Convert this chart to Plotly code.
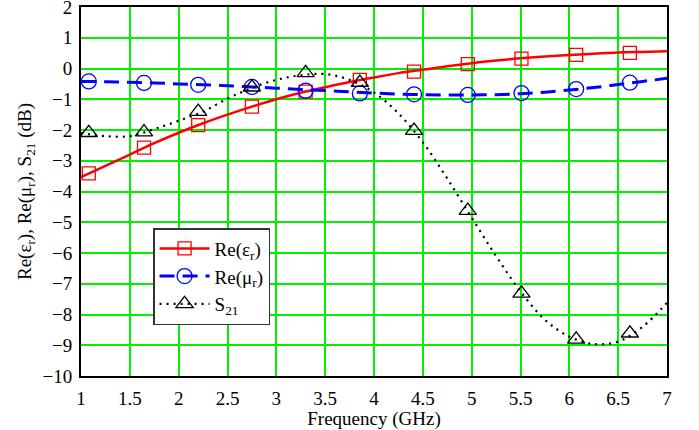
import plotly.graph_objects as go

# Dense curve samples (GHz)
line_freq = [1.0, 1.25, 1.5, 1.75, 2.0, 2.25, 2.5, 2.75, 3.0, 3.25, 3.5, 3.75, 4.0,
             4.25, 4.5, 4.75, 5.0, 5.25, 5.5, 5.75, 6.0, 6.25, 6.5, 6.75, 7.0]
eps_line = [-3.53, -3.17, -2.80, -2.43, -2.09, -1.78, -1.50, -1.24, -1.00, -0.79, -0.61, -0.44, -0.29,
            -0.15, -0.04, 0.07, 0.17, 0.26, 0.33, 0.39, 0.44, 0.48, 0.52, 0.54, 0.56]
mu_line = [-0.42, -0.43, -0.45, -0.47, -0.50, -0.53, -0.56, -0.60, -0.64, -0.68, -0.72, -0.76, -0.80,
           -0.83, -0.85, -0.86, -0.86, -0.85, -0.82, -0.77, -0.70, -0.62, -0.52, -0.42, -0.32]
s21_line = [-2.10, -2.20, -2.20, -1.97, -1.70, -1.40, -0.98, -0.63, -0.37, -0.22, -0.18, -0.37, -0.78,
            -1.46, -2.40, -3.58, -4.85, -6.10, -7.25, -8.17, -8.72, -8.96, -8.88, -8.40, -7.62]

# Marker samples
marker_freq = [1.08, 1.645, 2.2, 2.75, 3.3, 3.855, 4.41, 4.96, 5.51, 6.07, 6.62]
eps_mark = [-3.41, -2.57, -1.84, -1.24, -0.75, -0.37, -0.10, 0.14, 0.32, 0.44, 0.51]
mu_mark = [-0.42, -0.47, -0.53, -0.60, -0.72, -0.81, -0.84, -0.86, -0.80, -0.67, -0.46]
s21_mark = [-2.09, -2.07, -1.40, -0.61, -0.14, -0.46, -2.02, -4.62, -7.31, -8.81, -8.61]

x_ticks = [1, 1.5, 2, 2.5, 3, 3.5, 4, 4.5, 5, 5.5, 6, 6.5, 7]
x_tick_labels = ["1", "1.5", "2", "2.5", "3", "3.5", "4", "4.5", "5", "5.5", "6", "6.5", "7"]
y_ticks = list(range(-10, 3))

series_names = ["Re(ε<sub>r</sub>)", "Re(μ<sub>r</sub>)", "S<sub>21</sub>"]

RED = "#ff0000"
BLUE = "#0000ff"
BLACK = "#000000"
GREEN = "#00f000"
FONT = "Liberation Serif"

fig = go.Figure()

styles = [
    (eps_line, eps_mark, RED, dict(width=2.5), "square-open", 13, 1.3),
    (mu_line, mu_mark, BLUE, dict(width=3, dash="15px,8px"), "circle-open", 15, 1.3),
    (s21_line, s21_mark, BLACK, dict(width=2.2, dash="2px,5px"), "triangle-up-open", 15, 1.3),
]

for name, (ly, my, col, lstyle, sym, msize, mw) in zip(series_names, styles):
    fig.add_trace(go.Scatter(x=line_freq, y=ly, mode="lines", line_shape="spline",
                             line=dict(color=col, **lstyle), showlegend=False, hoverinfo="skip"))
    fig.add_trace(go.Scatter(x=marker_freq, y=my, mode="markers",
                             marker=dict(symbol=sym, size=msize, color=col, line=dict(width=mw, color=col)),
                             showlegend=False))
    fig.add_trace(go.Scatter(x=[None], y=[None], mode="lines+markers", name=name,
                             line=dict(color=col, **lstyle),
                             marker=dict(symbol=sym, size=msize, color=col, line=dict(width=mw, color=col))))

axis_common = dict(
    showgrid=True, gridcolor=GREEN, gridwidth=1.6,
    showline=True, linecolor=BLACK, linewidth=2, mirror=True,
    ticks="outside", tickcolor="rgba(0,0,0,0)", zeroline=False,
    tickfont=dict(family=FONT, size=19, color=BLACK),
    automargin=False, ticklabeloverflow="allow",
)

fig.update_xaxes(range=[1, 7], tickvals=x_ticks, ticktext=x_tick_labels, ticklen=4,
                 title=dict(text="Frequency (GHz)", font=dict(family=FONT, size=19, color=BLACK), standoff=0),
                 **axis_common)
fig.update_yaxes(range=[-10, 2], tickvals=y_ticks, ticklen=3,
                 title=dict(text="Re(ε<sub>r</sub>), Re(μ<sub>r</sub>), S<sub>21</sub> (dB)",
                            font=dict(family=FONT, size=19, color=BLACK), standoff=6),
                 **axis_common)

fig.update_layout(
    width=699, height=430,
    margin=dict(l=81, r=32, t=7, b=54, autoexpand=False),
    paper_bgcolor="white", plot_bgcolor="white",
    font=dict(family=FONT, color=BLACK),
    legend=dict(x=0.123, y=0.401, xanchor="left", yanchor="top",
                bgcolor="white", bordercolor="#333333", borderwidth=1.5,
                font=dict(family=FONT, size=19, color=BLACK),
                tracegroupgap=0, itemwidth=50),
)

fig.write_html("out.html", config={"displayModeBar": False},
               post_script="document.body.style.margin='0';")
